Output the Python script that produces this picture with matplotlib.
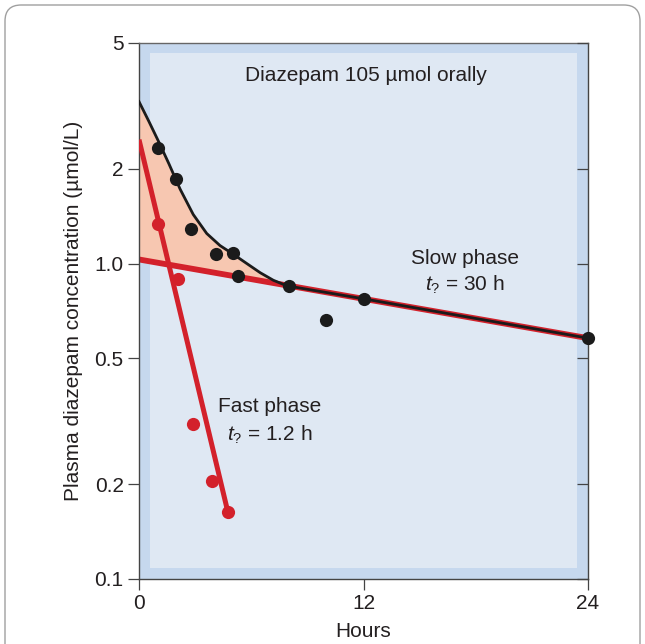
"""Diazepam plasma concentration after oral dose: biphasic decline on a log axis."""

import matplotlib

matplotlib.use("Agg")
import matplotlib.pyplot as plt
from matplotlib.patches import FancyBboxPatch, Rectangle

plt.rcParams["font.family"] = ["Liberation Sans", "DejaVu Sans"]
plt.rcParams["mathtext.fontset"] = "custom"
plt.rcParams["mathtext.it"] = "Liberation Sans:italic"
plt.rcParams["mathtext.rm"] = "Liberation Sans"

# measured concentrations (umol/L)
total_hours = [1, 2, 2.8, 4.1, 5, 5.3, 8, 10, 12, 24]
total_conc = [2.32, 1.85, 1.29, 1.07, 1.08, 0.91, 0.85, 0.66, 0.77, 0.58]

# residuals after subtracting the slow phase
fast_hours = [1, 2.1, 2.9, 3.9, 4.75]
fast_conc = [1.33, 0.89, 0.31, 0.205, 0.163]

# fitted lines (end points)
slow_line_hours = [0, 24]
slow_line_conc = [1.03, 0.58]
fast_line_hours = [0, 4.75]
fast_line_conc = [2.47, 0.163]

# fitted biexponential curve, read along its path
curve_hours = [0, 0.53, 1.07, 1.6, 2.2, 2.9, 3.62, 4.33, 5.04, 5.76, 6.48, 7.18, 7.9, 12, 24]
curve_conc = [3.26, 2.82, 2.42, 2.07, 1.72, 1.43, 1.245, 1.14, 1.07, 1.0, 0.935,
              0.885, 0.85, 0.773, 0.58]
merge_idx = 12  # curve joins the slow line here

yticks = [0.1, 0.2, 0.5, 1.0, 2, 5]
ytick_labels = ["0.1", "0.2", "0.5", "1.0", "2", "5"]
xticks = [0, 12, 24]

RED = "#d3212b"
BLACK = "#1b1b1b"
SALMON = "#f7c7b1"
BLUE_EDGE = "#c6d8ee"
BLUE_IN = "#dfe8f3"
TEXT = "#231f20"
SPINE = "#444444"
FS = 15

fig = plt.figure(figsize=(6.45, 6.44), dpi=100)
fig.patches.append(
    FancyBboxPatch(
        (5 / 645, -0.1),
        635 / 645,
        (639 / 644) + 0.1,
        boxstyle="round,pad=0,rounding_size=0.025",
        transform=fig.transFigure,
        facecolor="white",
        edgecolor="#a0a0a0",
        linewidth=1.0,
        zorder=-10,
    )
)

ax = fig.add_axes([139 / 645, 65 / 644, 449 / 645, 536 / 644])
ax.set_facecolor(BLUE_EDGE)
ax.add_patch(
    Rectangle(
        (11 / 449, 11 / 536),
        1 - 22 / 449,
        1 - 21 / 536,
        transform=ax.transAxes,
        facecolor=BLUE_IN,
        edgecolor="none",
        zorder=0,
    )
)

ax.set_yscale("log")
ax.set_xlim(0, 24)
ax.set_ylim(0.1, 5)

# shaded area between the fitted curve and the slow-phase line
ax.fill(curve_hours[: merge_idx + 1] + [slow_line_hours[0]],
        curve_conc[: merge_idx + 1] + [slow_line_conc[0]],
        color=SALMON, lw=0, zorder=1)
ax.plot(slow_line_hours, slow_line_conc, color=RED, lw=4.2, solid_capstyle="butt", zorder=2)
ax.plot(curve_hours, curve_conc, color=BLACK, lw=2.0, zorder=3, solid_joinstyle="round")
ax.plot(fast_line_hours, fast_line_conc, color=RED, lw=3.6, solid_capstyle="butt", zorder=4)
ax.plot(total_hours, total_conc, "o", color=BLACK, ms=9.5, mew=0, zorder=5, clip_on=False)
ax.plot(fast_hours, fast_conc, "o", color=RED, ms=9.5, mew=0, zorder=5, clip_on=False)

ax.set_yticks(yticks)
ax.set_yticklabels(ytick_labels)
ax.minorticks_off()
ax.set_xticks(xticks)
ax.tick_params(axis="both", which="major", labelsize=FS, colors=TEXT, length=8,
               width=0.9, direction="out", pad=3)
ax.tick_params(axis="both", color=SPINE)
for s in ax.spines.values():
    s.set_color(SPINE)
    s.set_linewidth(1.0)
ax.spines["top"].set_color("#666666")

# inward ticks on the right edge
tw = ax.twinx()
tw.set_yscale("log")
tw.set_ylim(0.1, 5)
tw.set_yticks(yticks)
tw.minorticks_off()
tw.tick_params(axis="y", direction="in", length=8, width=0.9, color=SPINE, labelright=False)
for s in tw.spines.values():
    s.set_visible(False)

ax.set_ylabel("Plasma diazepam concentration (µmol/L)", fontsize=FS, color=TEXT, labelpad=8)
ax.set_xlabel("Hours", fontsize=FS, color=TEXT, labelpad=6)

ax.text(0.505, 0.94, "Diazepam 105 µmol orally", transform=ax.transAxes,
        ha="center", va="center", fontsize=FS, color=TEXT)
ax.text(17.4, 1.034, "Slow phase", ha="center", va="center", fontsize=FS, color=TEXT)
ax.text(17.4, 0.855, "$t_?$ = 30 h", ha="center", va="center", fontsize=FS, color=TEXT)
ax.text(7.0, 0.353, "Fast phase", ha="center", va="center", fontsize=FS, color=TEXT)
ax.text(7.0, 0.286, "$t_?$ = 1.2 h", ha="center", va="center", fontsize=FS, color=TEXT)

fig.savefig("out.png", dpi=100, facecolor="white")
